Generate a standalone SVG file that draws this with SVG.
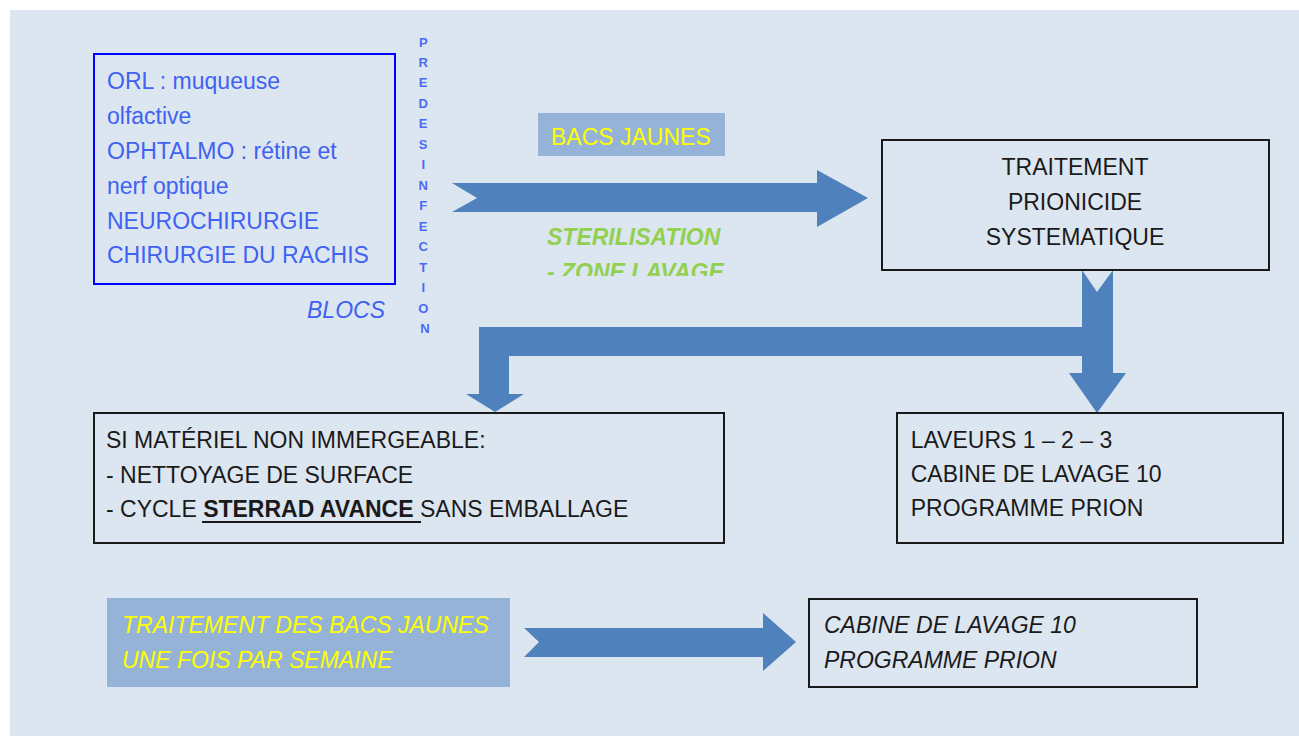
<svg xmlns="http://www.w3.org/2000/svg" width="1299" height="736" viewBox="0 0 1299 736">
  <defs>
    <style>
      .t { font-family: "Liberation Sans", Arial, sans-serif; font-size: 23px; }
      .blue { fill: #3f62f2; }
      .dark { fill: #1a1a1a; }
      .yellow { fill: #ffff00; }
      .box { fill: none; stroke: #1a1a1a; stroke-width: 2; }
      .fillbox { fill: #95b3d7; }
      .arrow { fill: #4f81bd; }
    </style>
    <clipPath id="clipZone">
      <rect x="530" y="220" width="220" height="56"/>
    </clipPath>
  </defs>

  <rect x="0" y="0" width="1299" height="736" fill="#ffffff"/>
  <rect x="10" y="10" width="1289" height="726" fill="#dce6f1"/>

  <g id="connectors">
    <polygon class="arrow" points="452,183 817,183 817,170 868,198 817,227 817,212 452,212 477,198"/>
    <polygon class="arrow" points="1082,270 1097,292 1113,270 1113,373 1126,373 1097,413 1069,373 1082,373 1082,356 509,356 509,394 524,394 495,412 466,394 479,394 479,327 1082,327"/>
    <polygon class="arrow" points="524,628 763,628 763,613 796,642 763,671 763,657 524,657 539,642"/>
  </g>

  <g id="blocs">
    <rect x="94" y="54" width="301" height="230" fill="none" stroke="#0000ff" stroke-width="2"/>
    <text class="t blue" x="107" y="89">ORL : muqueuse</text>
    <text class="t blue" x="107" y="124">olfactive</text>
    <text class="t blue" x="107" y="159">OPHTALMO : rétine et</text>
    <text class="t blue" x="107" y="193.5">nerf optique</text>
    <text class="t blue" x="107" y="228.5">NEUROCHIRURGIE</text>
    <text class="t blue" x="107" y="263">CHIRURGIE DU RACHIS</text>
    <text class="t blue" x="307" y="318" font-style="italic" font-size="22">BLOCS</text>
  </g>

  <g id="predesinfection">
    <text font-family="Liberation Sans, Arial, sans-serif" font-size="13" font-weight="bold" fill="#4d6af5" text-anchor="middle">
      <tspan x="425" y="46.5">P</tspan>
      <tspan x="425" dy="20.47">R</tspan>
      <tspan x="425" dy="20.47">E</tspan>
      <tspan x="425" dy="20.47">D</tspan>
      <tspan x="425" dy="20.47">E</tspan>
      <tspan x="425" dy="20.47">S</tspan>
      <tspan x="425" dy="20.47">I</tspan>
      <tspan x="425" dy="20.47">N</tspan>
      <tspan x="425" dy="20.47">F</tspan>
      <tspan x="425" dy="20.47">E</tspan>
      <tspan x="425" dy="20.47">C</tspan>
      <tspan x="425" dy="20.47">T</tspan>
      <tspan x="425" dy="20.47">I</tspan>
      <tspan x="425" dy="20.47">O</tspan>
      <tspan x="425" dy="20.47">N</tspan>
    </text>
  </g>

  <g id="bacs-jaunes">
    <rect class="fillbox" x="538" y="113" width="187" height="43"/>
    <text class="t yellow" x="551" y="145" font-size="22.3">BACS JAUNES</text>
  </g>

  <g id="sterilisation" clip-path="url(#clipZone)">
    <text class="t" x="547" y="245" font-size="22.5" font-weight="bold" font-style="italic" fill="#92d050">STERILISATION</text>
    <text class="t" x="547" y="280" font-size="22.5" font-weight="bold" font-style="italic" fill="#92d050">- ZONE LAVAGE</text>
  </g>

  <g id="traitement-prionicide">
    <rect class="box" x="882" y="140" width="387" height="130"/>
    <text class="t dark" x="1075" y="174.5" text-anchor="middle">TRAITEMENT</text>
    <text class="t dark" x="1075" y="210" text-anchor="middle">PRIONICIDE</text>
    <text class="t dark" x="1075" y="245" text-anchor="middle">SYSTEMATIQUE</text>
  </g>

  <g id="non-immergeable">
    <rect class="box" x="94" y="413" width="630" height="130"/>
    <text class="t dark" x="106" y="447.7">SI MATÉRIEL NON IMMERGEABLE:</text>
    <text class="t dark" x="106" y="482.5">- NETTOYAGE DE SURFACE</text>
    <text class="t dark" x="106" y="516.7">- CYCLE <tspan font-weight="bold">STERRAD AVANCE</tspan> SANS EMBALLAGE</text>
    <line x1="202" y1="522" x2="421" y2="522" stroke="#1a1a1a" stroke-width="2"/>
  </g>

  <g id="laveurs">
    <rect class="box" x="897" y="413" width="386" height="130"/>
    <text class="t dark" x="910.7" y="447.7">LAVEURS 1 – 2 – 3</text>
    <text class="t dark" x="910.7" y="481.7">CABINE DE LAVAGE 10</text>
    <text class="t dark" x="910.7" y="516">PROGRAMME PRION</text>
  </g>

  <g id="traitement-bacs">
    <rect class="fillbox" x="107" y="598" width="403" height="89"/>
    <text class="t yellow" x="122" y="632.7" font-style="italic" font-size="22.8">TRAITEMENT DES BACS JAUNES</text>
    <text class="t yellow" x="122" y="668.3" font-style="italic" font-size="22.8">UNE FOIS PAR SEMAINE</text>
  </g>

  <g id="cabine-10">
    <rect class="box" x="809" y="599" width="388" height="88"/>
    <text class="t dark" x="824" y="632.7" font-style="italic">CABINE DE LAVAGE 10</text>
    <text class="t dark" x="824" y="668.3" font-style="italic">PROGRAMME PRION</text>
  </g>
</svg>
